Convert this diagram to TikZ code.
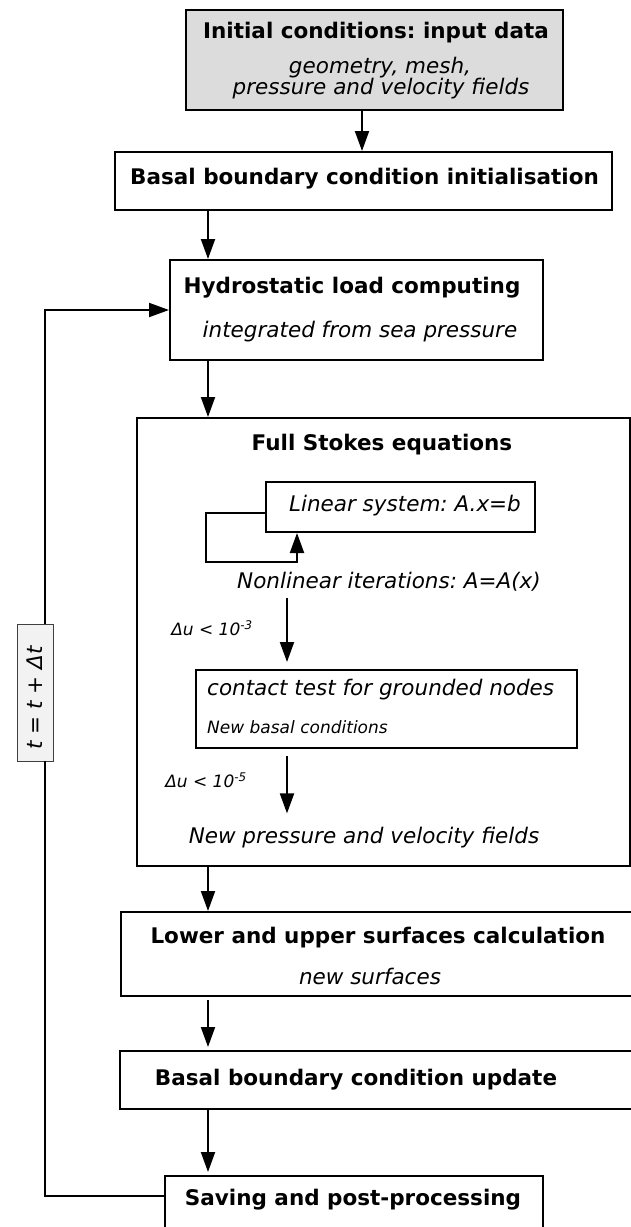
\documentclass[tikz,border=0pt]{standalone}
\usepackage{fontspec}
\setmainfont{DejaVu Sans}
\usetikzlibrary{arrows.meta}
\definecolor{boxgray}{HTML}{DCDCDC}
\definecolor{tgray}{HTML}{F2F2F2}
\frenchspacing
\begin{document}
\begin{tikzpicture}[x=1pt,y=-1pt,
  box/.style={draw, line width=2pt, inner sep=0pt},
  conn/.style={line width=2pt},
  arr/.style={line width=2pt, -{Triangle[length=20pt,width=14pt]}},
  ttl/.style={font=\fontsize{21.5}{25}\selectfont\bfseries, inner sep=0pt},
  itl/.style={font=\fontsize{21.5}{25}\selectfont\itshape, inner sep=0pt},
  sml/.style={font=\fontsize{17}{20}\selectfont\itshape, inner sep=0pt},
]
\clip (0,0) rectangle (631,1227);
\fill[white] (0,0) rectangle (631,1227);
% helper coordinates
\coordinate (xa) at (362,0);
\coordinate (xb) at (208,0);
\coordinate (xc) at (287,0);
\coordinate (xl) at (45,0);
\coordinate (xsu) at (297,0);
\coordinate (loopc) at (206,562);
\coordinate (yl) at (0,1196);
% boxes
\node[box, fill=boxgray, minimum width=377pt, minimum height=100pt] (b1) at (374.5,60) {};
\node[box, minimum width=497pt, minimum height=58pt] (b2) at (363.5,181) {};
\node[box, minimum width=373pt, minimum height=100pt] (b3) at (356.5,310) {};
\node[box, minimum width=493pt, minimum height=448pt] (b4) at (383.5,642) {};
\node[box, minimum width=269pt, minimum height=50pt] (lin) at (400.5,507) {};
\node[box, minimum width=381pt, minimum height=78pt] (ct) at (386.5,709) {};
\node[box, minimum width=599pt, minimum height=84pt] (b5) at (420.5,954) {};
\node[box, minimum width=600pt, minimum height=58pt] (b6) at (420,1080) {};
\node[box, minimum width=378pt, minimum height=104pt] (b7) at (354,1228) {};
\node[draw=black!75, line width=0.8pt, fill=tgray, minimum width=36pt, minimum height=137pt, inner sep=0pt] (tb) at (35,692.5) {};
% texts
\node[ttl] (t1) at (376,33) {Initial conditions: input data};
\node[itl] (t1a) at (380,68) {geometry, mesh,};
\node[itl] (t1b) at (381,89) {pressure and velocity fields};
\node[ttl] (t2) at (364.5,179) {Basal boundary condition initialisation};
\node[ttl] (t3) at (352,288) {Hydrostatic load computing};
\node[itl] (t3a) at (360,332) {integrated from sea pressure};
\node[ttl] (t4) at (382,445) {Full Stokes equations};
\node[itl] (tlin) at (405,506) {Linear system: A.x=b};
\node[itl] (nl) at (389,582) {Nonlinear iterations: A=A(x)};
\node[sml] (d3) at (212,628) {Δu < 10\textsuperscript{-3}};
\node[itl, anchor=west] (tct) at (207,690) {contact test for grounded nodes};
\node[sml, anchor=west] (tcta) at (207,727) {New basal conditions};
\node[sml] (d5) at (206,780) {Δu < 10\textsuperscript{-5}};
\node[itl] (np) at (364,838) {New pressure and velocity fields};
\node[ttl] (t5) at (378,938) {Lower and upper surfaces calculation};
\node[itl] (t5a) at (370,976) {new surfaces};
\node[ttl] (t6) at (356,1080) {Basal boundary condition update};
\node[ttl] (t7) at (353,1200) {Saving and post-processing};
\node[itl, rotate=90] (tt) at (35,698) {t = t + Δt};
% connectors
\draw[arr] (b1.south -| xa) -- (b2.north -| xa);
\draw[arr] (b2.south -| xb) -- (b3.north -| xb);
\draw[arr] (b3.south -| xb) -- (b4.north -| xb);
\draw[arr] ([yshift=-6pt]lin.west) -| (loopc) -| (lin.south -| xsu);
\draw[arr, shorten <=6pt, shorten >=7pt] (nl.south -| xc) -- (ct.north -| xc);
\draw[arr, shorten <=7pt, shorten >=14pt] (ct.south -| xc) -- (np.north -| xc);
\draw[arr] (b4.south -| xb) -- (b5.north -| xb);
\draw[arr, shorten <=3pt, shorten >=3pt] (b5.south -| xb) -- (b6.north -| xb);
\draw[arr, shorten >=3pt] (b6.south -| xb) -- (b7.north -| xb);
\draw[conn] (b7.west |- yl) -| (tb.south -| xl);
\draw[arr] (tb.north -| xl) |- (b3.west);
\end{tikzpicture}
\end{document}
